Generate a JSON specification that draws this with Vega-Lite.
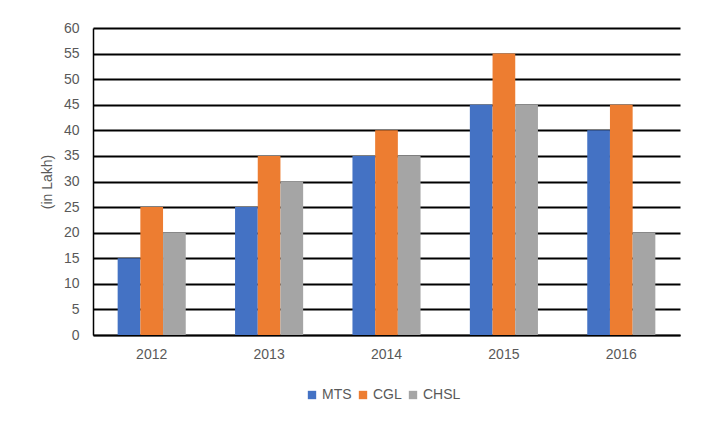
{
  "$schema": "https://vega.github.io/schema/vega-lite/v6.json",
  "width": 587,
  "height": 307,
  "autosize": "none",
  "padding": {"left": 93, "top": 28, "right": 44, "bottom": 102},
  "background": "white",
  "config": {
    "view": {"stroke": null},
    "font": "Liberation Sans",
    "axis": {"labelFont": "Liberation Sans", "labelColor": "#595959", "labelFontSize": 14, "titleFont": "Liberation Sans", "titleColor": "#595959", "titleFontSize": 14, "titleFontWeight": "normal"},
    "legend": {"labelFont": "Liberation Sans", "labelColor": "#595959", "labelFontSize": 14, "padding": 0}
  },
  "data": {
    "values": [
      {"year": "2012", "series": "MTS", "value": 15},
      {"year": "2012", "series": "CGL", "value": 25},
      {"year": "2012", "series": "CHSL", "value": 20},
      {"year": "2013", "series": "MTS", "value": 25},
      {"year": "2013", "series": "CGL", "value": 35},
      {"year": "2013", "series": "CHSL", "value": 30},
      {"year": "2014", "series": "MTS", "value": 35},
      {"year": "2014", "series": "CGL", "value": 40},
      {"year": "2014", "series": "CHSL", "value": 35},
      {"year": "2015", "series": "MTS", "value": 45},
      {"year": "2015", "series": "CGL", "value": 55},
      {"year": "2015", "series": "CHSL", "value": 45},
      {"year": "2016", "series": "MTS", "value": 40},
      {"year": "2016", "series": "CGL", "value": 45},
      {"year": "2016", "series": "CHSL", "value": 20}
    ]
  },
  "mark": {"type": "bar"},
  "encoding": {
    "x": {
      "field": "year", "type": "nominal", "title": null,
      "scale": {"paddingInner": 0.42, "paddingOuter": 0.21},
      "axis": {"labelAngle": 0, "ticks": false, "domainColor": "black", "domainWidth": 1.5, "labelPadding": 12, "grid": false}
    },
    "xOffset": {"field": "series", "type": "nominal", "sort": ["MTS", "CGL", "CHSL"], "scale": {"paddingInner": 0, "paddingOuter": 0}},
    "y": {
      "field": "value", "type": "quantitative", "title": "(in Lakh)",
      "scale": {"domain": [0, 60], "nice": false},
      "axis": {"values": [0,5,10,15,20,25,30,35,40,45,50,55,60], "ticks": false, "domain": true, "domainColor": "black", "domainWidth": 1.5, "grid": true, "gridColor": "black", "gridWidth": 2.2, "labelPadding": 14, "titlePadding": 9}
    },
    "color": {
      "field": "series", "type": "nominal", "sort": ["MTS", "CGL", "CHSL"], "title": null,
      "scale": {"domain": ["MTS", "CGL", "CHSL"], "range": ["#4472C4", "#ED7D31", "#A5A5A5"]},
      "legend": {"orient": "none", "direction": "horizontal", "legendX": 212, "legendY": 360, "symbolType": "square", "symbolSize": 70, "symbolOpacity": 1, "symbolStrokeWidth": 0, "labelOffset": 3, "columnPadding": 4}
    }
  }
}
